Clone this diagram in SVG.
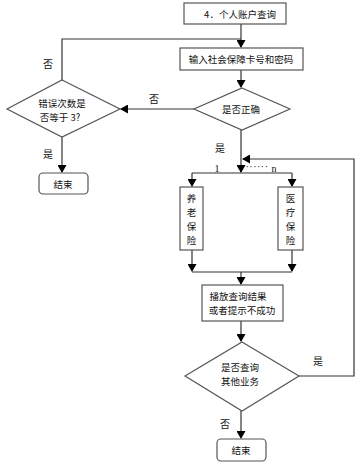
<svg xmlns="http://www.w3.org/2000/svg" width="364" height="466" viewBox="0 0 364 466">
<defs>
<marker id="ar" markerWidth="8" markerHeight="9" refX="7" refY="4.5" orient="auto" markerUnits="userSpaceOnUse">
<path d="M0,0 L8,4.5 L0,9 Z" fill="#000"/>
</marker>
<style>
.b{fill:#fff;stroke:#555;stroke-width:1.2}
.c{fill:none;stroke:#333;stroke-width:1.2}
.t{font-family:"Noto Sans CJK SC","Liberation Sans",sans-serif;font-size:9.5px;fill:#111;text-anchor:middle;dominant-baseline:central}
.l{font-family:"Noto Sans CJK SC","Liberation Sans",sans-serif;font-size:10px;fill:#111;text-anchor:middle;dominant-baseline:central}
.s{font-family:"Liberation Serif",serif;font-size:10px;fill:#111;text-anchor:middle;dominant-baseline:central}
</style>
</defs>
<rect width="364" height="466" fill="#fff"/>
<g id="connectors">
<path class="c" d="M241,24 V47" marker-end="url(#ar)"/>
<path class="c" d="M62,80 V39 H241"/>
<path class="c" d="M241,70 V87" marker-end="url(#ar)"/>
<path class="c" d="M194,109 H121" marker-end="url(#ar)"/>
<path class="c" d="M62,137 V172" marker-end="url(#ar)"/>
<path class="c" d="M241,130 V172" marker-end="url(#ar)"/>
<path class="c" d="M192,173 H292"/>
<path class="c" d="M192,173 V186" marker-end="url(#ar)"/>
<path class="c" d="M292,173 V186" marker-end="url(#ar)"/>
<path class="c" d="M192,250 V271" marker-end="url(#ar)"/>
<path class="c" d="M292,250 V271" marker-end="url(#ar)"/>
<path class="c" d="M192,272 H292"/>
<path class="c" d="M241,272 V284" marker-end="url(#ar)"/>
<path class="c" d="M241,321 V341" marker-end="url(#ar)"/>
<path class="c" d="M299,376 H354 V159 H243" marker-end="url(#ar)"/>
<path class="c" d="M241,411 V438" marker-end="url(#ar)"/>
<text class="l" x="48" y="63">否</text>
<text class="l" x="154" y="98">否</text>
<text class="l" x="48" y="153">是</text>
<text class="l" x="220" y="147">是</text>
<text class="s" x="217" y="168">1</text>
<text class="s" x="257" y="166" letter-spacing="0.5">······</text>
<text class="s" x="274" y="168">n</text>
<text class="l" x="318" y="360">是</text>
<text class="l" x="225" y="423">否</text>
</g>
<g id="start">
<rect class="b" x="184" y="3" width="102" height="21"/>
<text class="t" x="240" y="14">4．个人账户查询</text>
</g>
<g id="input">
<rect class="b" x="180" y="48" width="123" height="22"/>
<text class="t" x="241" y="59">输入社会保障卡号和密码</text>
</g>
<g id="check">
<polygon class="b" points="242,88 290,109 242,130 194,109"/>
<text class="t" x="241" y="109">是否正确</text>
</g>
<g id="errors">
<polygon class="b" points="62,80 120,109 62,137 7,109"/>
<text class="t" x="62" y="103">错误次数是</text>
<text class="t" x="60" y="117">否等于 3?</text>
</g>
<g id="end1">
<rect class="b" x="39" y="173" width="49" height="21" rx="4"/>
<text class="t" x="63" y="184">结束</text>
</g>
<g id="pension">
<rect class="b" x="180" y="187" width="23" height="63"/>
<text class="t" x="191.5" y="198">养</text>
<text class="t" x="191.5" y="212">老</text>
<text class="t" x="191.5" y="226">保</text>
<text class="t" x="191.5" y="240">险</text>
</g>
<g id="medical">
<rect class="b" x="278" y="187" width="25" height="63"/>
<text class="t" x="290.5" y="198">医</text>
<text class="t" x="290.5" y="212">疗</text>
<text class="t" x="290.5" y="226">保</text>
<text class="t" x="290.5" y="240">险</text>
</g>
<g id="result">
<rect class="b" x="202" y="285" width="81" height="36"/>
<text class="t" x="238" y="296">播放查询结果</text>
<text class="t" x="242" y="310">或者提示不成功</text>
</g>
<g id="other">
<polygon class="b" points="242,342 299,376 242,411 185,376"/>
<text class="t" x="240" y="367">是否查询</text>
<text class="t" x="240" y="381">其他业务</text>
</g>
<g id="end2">
<rect class="b" x="217" y="439" width="49" height="22" rx="4"/>
<text class="t" x="241" y="450">结束</text>
</g>
</svg>
